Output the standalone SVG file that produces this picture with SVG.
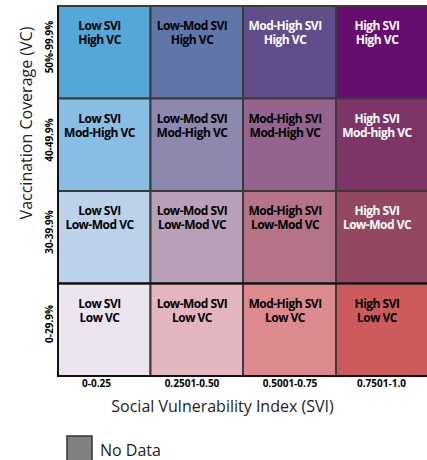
<svg xmlns="http://www.w3.org/2000/svg" width="427" height="460" viewBox="0 0 427 460">
<style>
.cell rect{stroke:#3a3a3a;stroke-width:2}
.lb{font-family:"Open Sans","Liberation Sans",sans-serif;font-weight:700;font-size:12px;letter-spacing:-0.5px;text-anchor:middle}
.d{fill:#000}
.w{fill:#fff}
.tick{font-family:"Open Sans","Liberation Sans",sans-serif;font-weight:700;font-size:10px;text-anchor:middle;fill:#000}
.title{font-family:"Open Sans","Liberation Sans",sans-serif;font-size:16px;fill:#222;text-anchor:middle}
</style>
<rect width="427" height="460" fill="#fff"/>
<g id="cells">
<g id="c-low-high" class="cell"><rect x="58" y="6" width="92.5" height="92.5" fill="#55a7da"/><text class="lb d" x="99.5" y="30">Low SVI</text><text class="lb d" x="99.5" y="44">High VC</text></g>
<g id="c-lowmod-high" class="cell"><rect x="150.5" y="6" width="92.5" height="92.5" fill="#6075a8"/><text class="lb d" x="192" y="30">Low-Mod SVI</text><text class="lb d" x="192" y="44">High VC</text></g>
<g id="c-modhigh-high" class="cell"><rect x="243" y="6" width="93" height="92.5" fill="#604d8a"/><text class="lb w" x="285" y="30">Mod-High SVI</text><text class="lb w" x="285" y="44">High VC</text></g>
<g id="c-high-high" class="cell"><rect x="336" y="6" width="93" height="92.5" fill="#650e6f"/><text class="lb w" x="377" y="30">High SVI</text><text class="lb w" x="377" y="44">High VC</text></g>

<g id="c-low-modhigh" class="cell"><rect x="58" y="98.5" width="92.5" height="92.5" fill="#8abde3"/><text class="lb d" x="99.5" y="122.5">Low SVI</text><text class="lb d" x="99.5" y="136.5">Mod-High VC</text></g>
<g id="c-lowmod-modhigh" class="cell"><rect x="150.5" y="98.5" width="92.5" height="92.5" fill="#8c88ae"/><text class="lb d" x="192" y="122.5">Low-Mod SVI</text><text class="lb d" x="192" y="136.5">Mod-High VC</text></g>
<g id="c-modhigh-modhigh" class="cell"><rect x="243" y="98.5" width="93" height="92.5" fill="#94648f"/><text class="lb d" x="285" y="122.5">Mod-High SVI</text><text class="lb d" x="285" y="136.5">Mod-High VC</text></g>
<g id="c-high-modhigh" class="cell"><rect x="336" y="98.5" width="93" height="92.5" fill="#7d3568"/><text class="lb w" x="377" y="122.5">High SVI</text><text class="lb w" x="377" y="136.5">Mod-high VC</text></g>

<g id="c-low-lowmod" class="cell"><rect x="58" y="191" width="92.5" height="92.5" fill="#bcd1ea"/><text class="lb d" x="99.5" y="215">Low SVI</text><text class="lb d" x="99.5" y="229">Low-Mod VC</text></g>
<g id="c-lowmod-lowmod" class="cell"><rect x="150.5" y="191" width="92.5" height="92.5" fill="#b8a0b8"/><text class="lb d" x="192" y="215">Low-Mod SVI</text><text class="lb d" x="192" y="229">Low-Mod VC</text></g>
<g id="c-modhigh-lowmod" class="cell"><rect x="243" y="191" width="93" height="92.5" fill="#b47387"/><text class="lb d" x="285" y="215">Mod-High SVI</text><text class="lb d" x="285" y="229">Low-Mod VC</text></g>
<g id="c-high-lowmod" class="cell"><rect x="336" y="191" width="93" height="92.5" fill="#944760"/><text class="lb w" x="377" y="215">High SVI</text><text class="lb w" x="377" y="229">Low-Mod VC</text></g>

<g id="c-low-low" class="cell"><rect x="58" y="283.5" width="92.5" height="92.5" fill="#ece5f0"/><text class="lb d" x="99.5" y="307.5">Low SVI</text><text class="lb d" x="99.5" y="321.5">Low VC</text></g>
<g id="c-lowmod-low" class="cell"><rect x="150.5" y="283.5" width="92.5" height="92.5" fill="#e3b5bf"/><text class="lb d" x="192" y="307.5">Low-Mod SVI</text><text class="lb d" x="192" y="321.5">Low VC</text></g>
<g id="c-modhigh-low" class="cell"><rect x="243" y="283.5" width="93" height="92.5" fill="#dc8a8e"/><text class="lb d" x="285" y="307.5">Mod-High SVI</text><text class="lb d" x="285" y="321.5">Low VC</text></g>
<g id="c-high-low" class="cell"><rect x="336" y="283.5" width="93" height="92.5" fill="#cd5b5b"/><text class="lb d" x="377" y="307.5">High SVI</text><text class="lb d" x="377" y="321.5">Low VC</text></g>
</g>
<g id="grid-lines" fill="none" stroke="#111" stroke-width="2">
<line x1="58" y1="283.5" x2="429" y2="283.5"/>
<polyline points="58,6 58,376 429,376"/>
</g>
<g id="y-ticks">
<text class="tick" transform="translate(53,47) rotate(-90)">50%-99.9%</text>
<text class="tick" transform="translate(53,140) rotate(-90)">40-49.9%</text>
<text class="tick" transform="translate(53,232) rotate(-90)">30-39.9%</text>
<text class="tick" transform="translate(53,324) rotate(-90)">0-29.9%</text>
</g>
<g id="x-ticks">
<text class="tick" x="96.5" y="387">0-0.25</text>
<text class="tick" x="192" y="387">0.2501-0.50</text>
<text class="tick" x="290" y="387">0.5001-0.75</text>
<text class="tick" x="381.5" y="387">0.7501-1.0</text>
</g>
<text class="title" transform="translate(32,123) rotate(-90)">Vaccination Coverage (VC)</text>
<text class="title" x="222.5" y="412">Social Vulnerability Index (SVI)</text>
<g id="legend">
<rect x="67" y="436" width="25" height="30" fill="#808080" stroke="#333" stroke-width="1.5"/>
<text x="100" y="456" style="font-family:'Open Sans','Liberation Sans',sans-serif;font-size:16px;fill:#222">No Data</text>
</g>
</svg>
